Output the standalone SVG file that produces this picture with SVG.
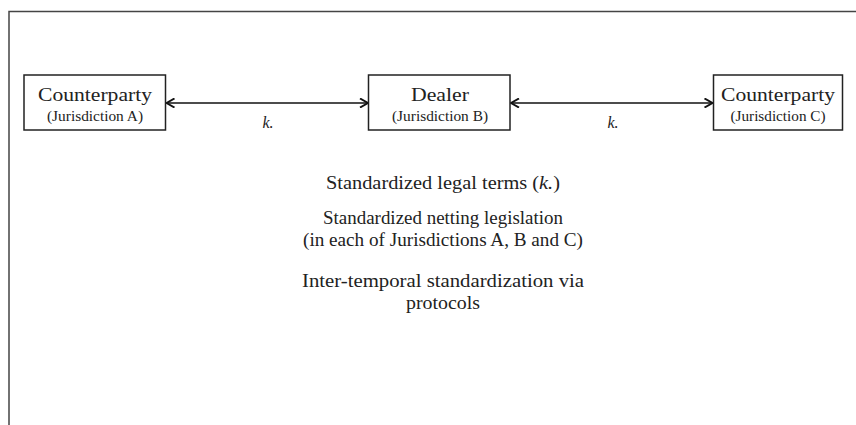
<svg xmlns="http://www.w3.org/2000/svg" width="856" height="425" viewBox="0 0 856 425">
<style>
.frame{fill:none;stroke:#444;stroke-width:1.5}
.box{fill:#fff;stroke:#222;stroke-width:1.5}
.t{font-family:"Liberation Serif","Times New Roman",serif;fill:#222;text-anchor:middle}
.big{font-size:19px}
.small{font-size:14px}
.mid{font-size:18.5px}
.k{font-family:"Liberation Serif","Times New Roman",serif;font-style:italic;font-size:16px;fill:#222;text-anchor:middle}
.conn{fill:none;stroke:#111;stroke-width:1.6}
</style>
<defs>
<marker id="chev" viewBox="0 0 10 10" refX="9" refY="5" markerWidth="10" markerHeight="10" markerUnits="userSpaceOnUse" orient="auto-start-reverse">
<path d="M1,0.5 L9,5 L1,9.5" fill="none" stroke="#111" stroke-width="2"/>
</marker>
</defs>
<rect width="856" height="425" fill="#fff"/>
<path class="frame" d="M9,425 L9,11.5 L856,11.5"/>
<g id="connectors">
<line class="conn" x1="166.5" y1="103" x2="368" y2="103" marker-start="url(#chev)" marker-end="url(#chev)"/>
<line class="conn" x1="511" y1="103" x2="712.5" y2="103" marker-start="url(#chev)" marker-end="url(#chev)"/>
<text class="k" x="268" y="128">k.</text>
<text class="k" x="613" y="128">k.</text>
</g>
<g id="nodeA">
<rect class="box" x="24" y="75" width="141.5" height="55"/>
<text class="t big" x="95" y="101" textLength="114" lengthAdjust="spacingAndGlyphs">Counterparty</text>
<text class="t small" x="95" y="121" textLength="96" lengthAdjust="spacingAndGlyphs">(Jurisdiction A)</text>
</g>
<g id="nodeB">
<rect class="box" x="368.5" y="75" width="141.5" height="55"/>
<text class="t big" x="440" y="101" textLength="58" lengthAdjust="spacingAndGlyphs">Dealer</text>
<text class="t small" x="440" y="121" textLength="96" lengthAdjust="spacingAndGlyphs">(Jurisdiction B)</text>
</g>
<g id="nodeC">
<rect class="box" x="713.5" y="75" width="129" height="55"/>
<text class="t big" x="778" y="101" textLength="114" lengthAdjust="spacingAndGlyphs">Counterparty</text>
<text class="t small" x="778" y="121" textLength="95" lengthAdjust="spacingAndGlyphs">(Jurisdiction C)</text>
</g>
<g id="notes">
<text class="t mid" x="443" y="189" textLength="234" lengthAdjust="spacingAndGlyphs">Standardized legal terms (<tspan font-style="italic">k.</tspan>)</text>
<text class="t mid" x="443" y="224" textLength="240" lengthAdjust="spacingAndGlyphs">Standardized netting legislation</text>
<text class="t mid" x="443" y="246" textLength="280" lengthAdjust="spacingAndGlyphs">(in each of Jurisdictions A, B and C)</text>
<text class="t mid" x="443" y="287" textLength="282" lengthAdjust="spacingAndGlyphs">Inter-temporal standardization via</text>
<text class="t mid" x="443" y="309" textLength="74" lengthAdjust="spacingAndGlyphs">protocols</text>
</g>
</svg>
